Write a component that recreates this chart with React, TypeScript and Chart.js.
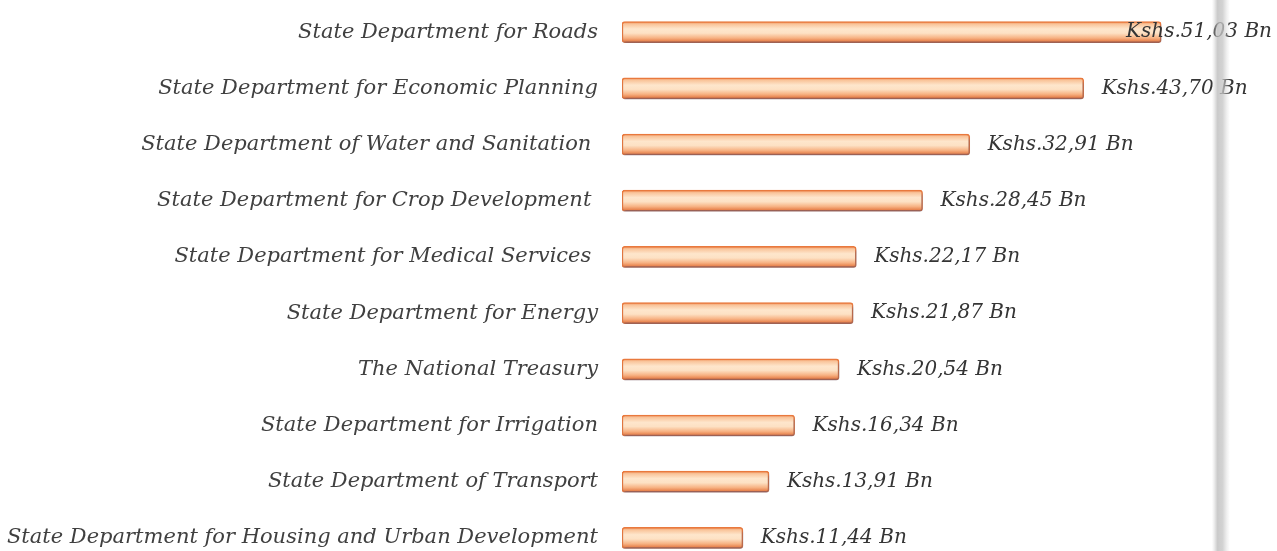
import React, { useEffect, useRef } from "react";
import { Chart, registerables } from "chart.js";

Chart.register(...registerables);

const categories = [
  "State Department for Roads",
  "State Department for Economic Planning",
  "State Department of Water and Sanitation ",
  "State Department for Crop Development ",
  "State Department for Medical Services ",
  "State Department for Energy",
  "The National Treasury",
  "State Department for Irrigation",
  "State Department of Transport",
  "State Department for Housing and Urban Development",
];

const values = [51.03, 43.7, 32.91, 28.45, 22.17, 21.87, 20.54, 16.34, 13.91, 11.44];

const valueLabels = [
  "Kshs.51,03 Bn",
  "Kshs.43,70 Bn",
  "Kshs.32,91 Bn",
  "Kshs.28,45 Bn",
  "Kshs.22,17 Bn",
  "Kshs.21,87 Bn",
  "Kshs.20,54 Bn",
  "Kshs.16,34 Bn",
  "Kshs.13,91 Bn",
  "Kshs.11,44 Bn",
];

const FONT_FAMILY = "'DejaVu Serif', serif";
const BAR_H = 21;

export default function App() {
  const ref = useRef<HTMLCanvasElement | null>(null);

  useEffect(() => {
    document.body.style.margin = "0";
    document.body.style.overflow = "hidden";
    const canvas = ref.current;
    if (!canvas) return;

    const shadowPlugin = {
      id: "barShadow",
      beforeDatasetsDraw(chart: any) {
        const c = chart.ctx;
        c.save();
        c.shadowColor = "rgba(70,70,110,0.5)";
        c.shadowOffsetY = 3;
        c.shadowOffsetX = 1;
        c.shadowBlur = 3;
      },
      afterDatasetsDraw(chart: any) {
        chart.ctx.restore();
      },
    };

    const labelPlugin = {
      id: "valueLabels",
      afterDraw(chart: any) {
        const c = chart.ctx;
        const meta = chart.getDatasetMeta(0);
        c.save();
        c.font = `italic 20px ${FONT_FAMILY}`;
        c.fillStyle = "#353535";
        c.textBaseline = "middle";
        c.textAlign = "left";
        meta.data.forEach((bar: any, i: number) => {
          const text = valueLabels[i];
          const w = c.measureText(text).width;
          let x = bar.x + 18;
          const maxX = 1272 - w;
          if (x > maxX) x = maxX;
          c.fillText(text, x, bar.y);
        });
        c.restore();
      },
    };

    const sepPlugin = {
      id: "scanLine",
      afterDraw(chart: any) {
        const c = chart.ctx;
        const g = c.createLinearGradient(1212, 0, 1230, 0);
        g.addColorStop(0, "rgba(200,200,200,0)");
        g.addColorStop(0.3, "rgba(185,185,185,0.75)");
        g.addColorStop(0.6, "rgba(200,200,200,0.8)");
        g.addColorStop(1, "rgba(220,220,220,0)");
        c.save();
        c.fillStyle = g;
        c.fillRect(1212, 0, 18, chart.height);
        c.restore();
      },
    };

    const chart = new Chart(canvas, {
      type: "bar",
      data: {
        labels: categories,
        datasets: [
          {
            data: values,
            barThickness: BAR_H,
            borderWidth: 1.5,
            borderColor: "#e9793d",
            borderRadius: 3,
            borderSkipped: false,
            backgroundColor: (ctx: any) => {
              const ch = ctx.chart;
              const ys = ch.scales?.y;
              if (!ys || ctx.dataIndex === undefined || !ch.chartArea) return "#f9c9a0";
              const yc = ys.getPixelForValue(ctx.dataIndex);
              if (!isFinite(yc)) return "#f9c9a0";
              const g = ch.ctx.createLinearGradient(0, yc - BAR_H / 2, 0, yc + BAR_H / 2);
              g.addColorStop(0, "#ee8a52");
              g.addColorStop(0.12, "#f9c49a");
              g.addColorStop(0.35, "#fee6cc");
              g.addColorStop(0.55, "#fde1c4");
              g.addColorStop(0.78, "#f7b283");
              g.addColorStop(1, "#e06d35");
              return g;
            },
          },
        ],
      },
      options: {
        indexAxis: "y",
        animation: false,
        responsive: false,
        maintainAspectRatio: false,
        layout: { padding: { top: 4, bottom: 4, left: 0, right: 0 } },
        plugins: {
          legend: { display: false },
          tooltip: { enabled: false },
        },
        scales: {
          x: {
            display: false,
            min: 0,
            max: 62,
          },
          y: {
            grid: { display: false, drawTicks: false },
            border: { display: false },
            ticks: {
              padding: 24,
              color: "#404040",
              font: { family: FONT_FAMILY, size: 21, style: "italic" },
              autoSkip: false,
            },
            afterFit(scale: any) {
              scale.width = 622;
              scale.paddingTop = 0;
              scale.paddingBottom = 0;
            },
          },
        },
      },
      plugins: [shadowPlugin, labelPlugin, sepPlugin],
    } as any);

    return () => chart.destroy();
  }, []);

  return (
    <div style={{ width: 1277, height: 570, position: "relative" }}>
      <canvas ref={ref} width={1277} height={570} style={{ display: "block" }} />
    </div>
  );
}
